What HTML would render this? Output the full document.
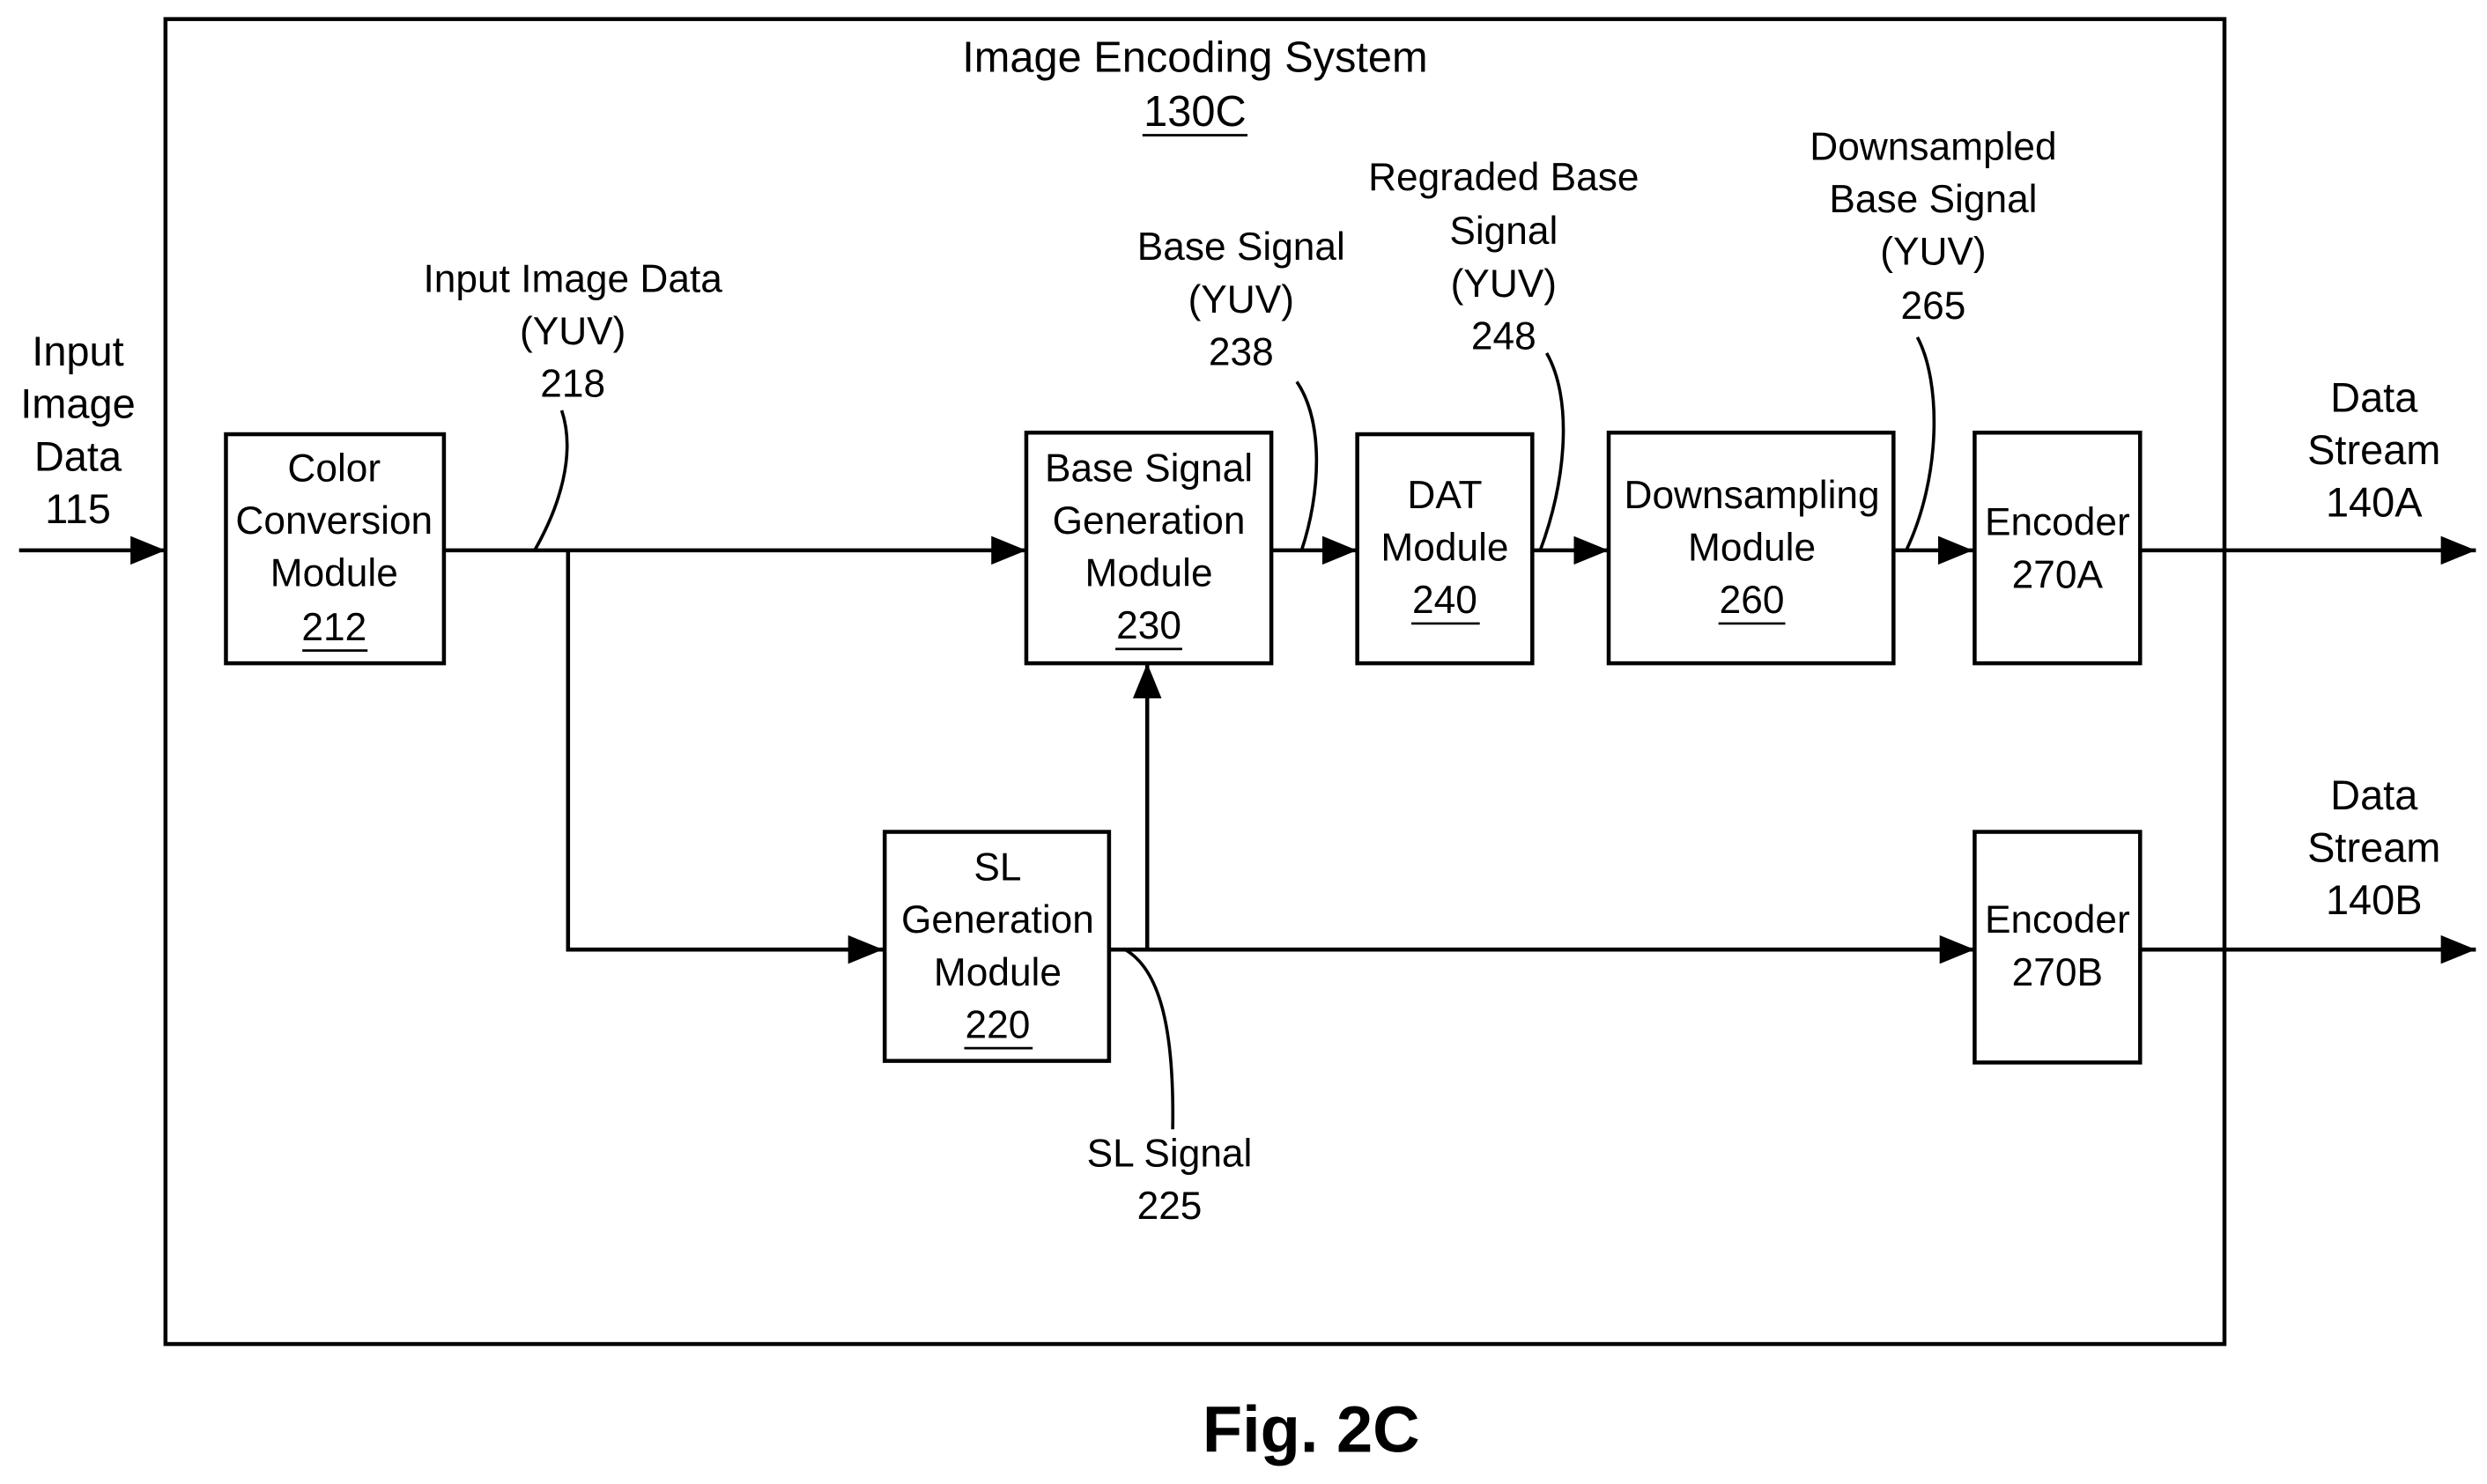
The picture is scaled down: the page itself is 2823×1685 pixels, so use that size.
<!DOCTYPE html>
<html><head><meta charset="utf-8"><style>
html,body{margin:0;padding:0;background:#fff;}
svg{display:block;}
text{font-family:"Liberation Sans",sans-serif;font-size:24.5px;fill:#000;text-anchor:middle;dominant-baseline:middle;}
</style></head><body>
<svg width="2823" height="1685" viewBox="0 0 1563 933" preserveAspectRatio="none" xmlns="http://www.w3.org/2000/svg">
<defs>
<marker id="b" markerWidth="22" markerHeight="18" refX="22" refY="9" orient="auto" markerUnits="userSpaceOnUse">
<path d="M0,0 L22,9 L0,18 z" fill="#000"/></marker>
</defs>
<g fill="none" stroke="#000" stroke-width="2.5">
<rect x="104" y="12" width="1294" height="833"/>
<rect x="142" y="273" width="137" height="144"/>
<rect x="645" y="272" width="154" height="145"/>
<rect x="853" y="273" width="110" height="144"/>
<rect x="1011" y="272" width="179" height="145"/>
<rect x="1241" y="272" width="104" height="145"/>
<rect x="556" y="523" width="141" height="144"/>
<rect x="1241" y="523" width="104" height="145"/>
<g marker-end="url(#b)">
<line x1="12" y1="346" x2="104" y2="346"/>
<line x1="279" y1="346" x2="645" y2="346"/>
<polyline points="357,346 357,597 555,597"/>
<line x1="799" y1="346" x2="853" y2="346"/>
<line x1="963" y1="346" x2="1011" y2="346"/>
<line x1="1190" y1="346" x2="1240" y2="346"/>
<line x1="1345" y1="346" x2="1556" y2="346"/>
<line x1="721" y1="597" x2="721" y2="417"/>
<line x1="697" y1="597" x2="1241" y2="597"/>
<line x1="1345" y1="597" x2="1556" y2="597"/>
</g>
</g>
<g fill="none" stroke="#000" stroke-width="2">
<path d="M353,258 C362,285 352,318 336,346"/>
<path d="M815,240 C832,265 830,310 818,346"/>
<path d="M972,222 C988,250 985,300 968,346"/>
<path d="M1205,212 C1220,240 1220,300 1198,346"/>
<path d="M707,597 C730,610 738,650 737,710"/>
</g>
<text x="751" y="38" style="font-size:27px">Image Encoding System</text>
<text x="751" y="72" style="font-size:27px">130C</text>
<line x1="718" y1="85" x2="784" y2="85" stroke="#000" stroke-width="1.5"/>
<text x="49" y="223" style="font-size:26px">Input</text>
<text x="49" y="256" style="font-size:26px">Image</text>
<text x="49" y="289" style="font-size:26px">Data</text>
<text x="49" y="322" style="font-size:26px">115</text>
<text x="210" y="296">Color</text>
<text x="210" y="329">Conversion</text>
<text x="210" y="362">Module</text>
<text x="210" y="396">212</text>
<line x1="190" y1="409" x2="231" y2="409" stroke="#000" stroke-width="1.5"/>
<text x="360" y="177">Input Image Data</text>
<text x="360" y="210">(YUV)</text>
<text x="360" y="243">218</text>
<text x="722" y="296">Base Signal</text>
<text x="722" y="329">Generation</text>
<text x="722" y="362">Module</text>
<text x="722" y="395">230</text>
<line x1="701" y1="408" x2="743" y2="408" stroke="#000" stroke-width="1.5"/>
<text x="780" y="157">Base Signal</text>
<text x="780" y="190">(YUV)</text>
<text x="780" y="223">238</text>
<text x="908" y="313">DAT</text>
<text x="908" y="346">Module</text>
<text x="908" y="379">240</text>
<line x1="887" y1="392" x2="930" y2="392" stroke="#000" stroke-width="1.5"/>
<text x="945" y="113">Regraded Base</text>
<text x="945" y="147">Signal</text>
<text x="945" y="180">(YUV)</text>
<text x="945" y="213">248</text>
<text x="1101" y="313">Downsampling</text>
<text x="1101" y="346">Module</text>
<text x="1101" y="379">260</text>
<line x1="1080" y1="392" x2="1122" y2="392" stroke="#000" stroke-width="1.5"/>
<text x="1215" y="94">Downsampled</text>
<text x="1215" y="127">Base Signal</text>
<text x="1215" y="160">(YUV)</text>
<text x="1215" y="194">265</text>
<text x="1293" y="330">Encoder</text>
<text x="1293" y="363">270A</text>
<text x="1492" y="252" style="font-size:26px">Data</text>
<text x="1492" y="285" style="font-size:26px">Stream</text>
<text x="1492" y="318" style="font-size:26px">140A</text>
<text x="627" y="547">SL</text>
<text x="627" y="580">Generation</text>
<text x="627" y="613">Module</text>
<text x="627" y="646">220</text>
<line x1="606" y1="659" x2="649" y2="659" stroke="#000" stroke-width="1.5"/>
<text x="735" y="727">SL Signal</text>
<text x="735" y="760">225</text>
<text x="1293" y="580">Encoder</text>
<text x="1293" y="613">270B</text>
<text x="1492" y="502" style="font-size:26px">Data</text>
<text x="1492" y="535" style="font-size:26px">Stream</text>
<text x="1492" y="568" style="font-size:26px">140B</text>
<text x="824" y="902" style="font-size:41px;font-weight:bold">Fig. 2C</text>
</svg>
</body></html>
